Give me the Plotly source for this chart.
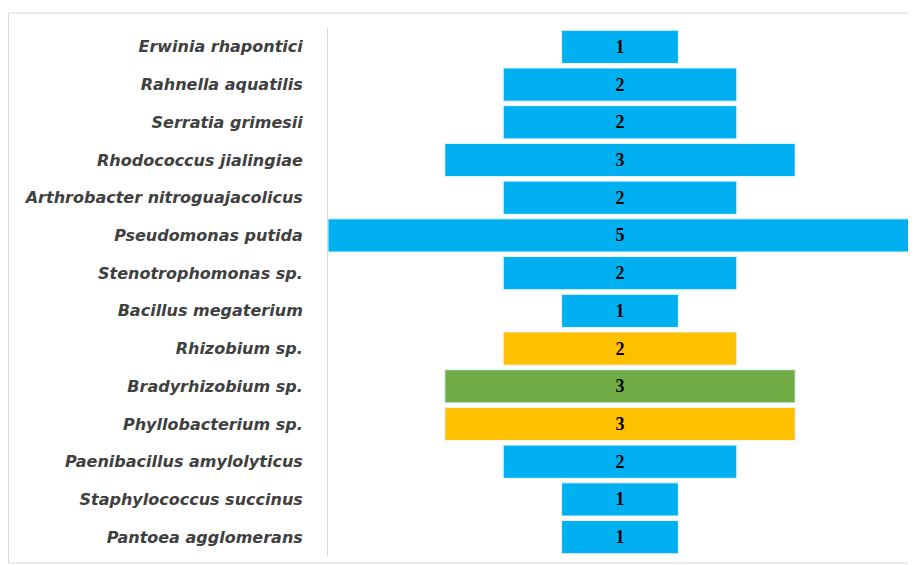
import plotly.graph_objects as go

species = ["Erwinia rhapontici", "Rahnella aquatilis", "Serratia grimesii",
           "Rhodococcus jialingiae", "Arthrobacter nitroguajacolicus",
           "Pseudomonas putida", "Stenotrophomonas sp.", "Bacillus megaterium",
           "Rhizobium sp.", "Bradyrhizobium sp.", "Phyllobacterium sp.",
           "Paenibacillus amylolyticus", "Staphylococcus succinus",
           "Pantoea agglomerans"]
counts = [1, 2, 2, 3, 2, 5, 2, 1, 2, 3, 3, 2, 1, 1]
groups = ["b", "b", "b", "b", "b", "b", "b", "b", "o", "g", "o", "b", "b", "b"]

palette = {"b": "#00B0F0", "o": "#FFC000", "g": "#70AD47"}
colors = [palette[g] for g in groups]
bases = [-c / 2 for c in counts]

# page body has an 8px margin, so the figure is placed at (8, 8)
OFF = 8
W, H = 916 - 2 * OFF, 565 - OFF
L, R, T, B = 328 - OFF, 0, 28 - OFF, 9
pw = W - L - R
ph = H - T - B
UNIT = 116.8  # px per count in the reference
x_lo = -max(counts) / 2
x_hi = x_lo + pw / UNIT

fig = go.Figure(go.Bar(
    y=species, x=counts, base=bases, orientation="h",
    marker=dict(color=colors, line=dict(color="#e8f6fc", width=1)),
    text=[str(c) for c in counts], textposition="inside",
    insidetextanchor="middle",
    textfont=dict(family="Liberation Serif", size=18, color="black", weight="bold"),
    width=0.88,
))

fig.update_layout(
    width=W, height=H,
    margin=dict(l=L, r=R, t=T, b=B),
    paper_bgcolor="white", plot_bgcolor="white",
    showlegend=False,
    uniformtext=dict(minsize=10, mode="show"),
    xaxis=dict(range=[x_lo, x_hi], visible=False, fixedrange=True),
    yaxis=dict(autorange="reversed", showline=True, linecolor="#d9d9d9",
               linewidth=1, ticks="", showgrid=False, ticklabelstandoff=21,
               tickfont=dict(family="DejaVu Sans", size=16, color="#404040",
                             style="italic", weight="bold")),
    shapes=[dict(type="rect", xref="paper", yref="paper",
                 x0=(0.5 - L) / pw, x1=(W + 5 - L) / pw,
                 y0=(H - 555 - B) / ph, y1=(H - 5 - B) / ph,
                 line=dict(color="#d9d9d9", width=1))],
)

fig.write_html("out.html")
